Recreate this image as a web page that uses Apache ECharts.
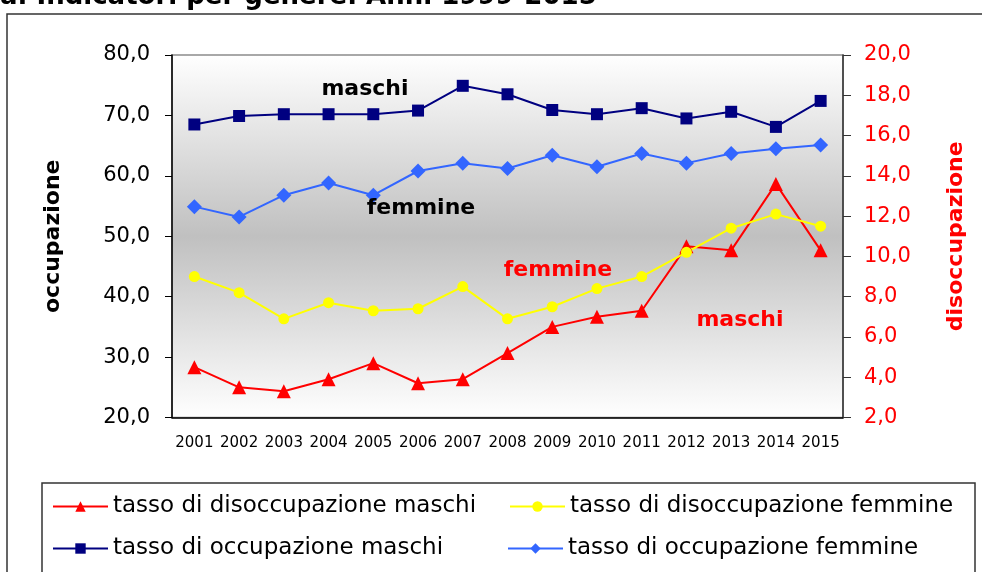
<!DOCTYPE html>
<html>
<head>
<meta charset="utf-8">
<script src="https://cdn.jsdelivr.net/npm/echarts@6/dist/echarts.min.js"></script>
<style>
  html, body { margin: 0; padding: 0; background: #fff; }
  #chart { width: 982px; height: 572px; }
</style>
</head>
<body>
<div id="chart"></div>
<script>
// anni e serie
var anni = ['2001', '2002', '2003', '2004', '2005', '2006', '2007', '2008', '2009', '2010', '2011', '2012', '2013', '2014', '2015'];
var disoccMaschi = [4.5, 3.5, 3.3, 3.9, 4.7, 3.7, 3.9, 5.2, 6.5, 7.0, 7.3, 10.5, 10.3, 13.6, 10.3];
var disoccFemmine = [9.0, 8.2, 6.9, 7.7, 7.3, 7.4, 8.5, 6.9, 7.5, 8.4, 9.0, 10.2, 11.4, 12.1, 11.5];
var occMaschi = [68.5, 69.9, 70.2, 70.2, 70.2, 70.8, 74.9, 73.5, 70.9, 70.2, 71.2, 69.5, 70.6, 68.1, 72.4];
var occFemmine = [54.9, 53.2, 56.8, 58.8, 56.8, 60.8, 62.1, 61.2, 63.4, 61.5, 63.7, 62.1, 63.7, 64.5, 65.1];

var nomi = ['tasso di disoccupazione maschi', 'tasso di disoccupazione femmine',
            'tasso di occupazione maschi', 'tasso di occupazione femmine'];

var chartDom = document.getElementById('chart');
var myChart = echarts.init(chartDom);

var font = 'DejaVu Sans';
function virgola(v) { return v.toFixed(1).replace('.', ','); }

function legenda(nome, left, top) {
  return {
    data: [nome],
    left: left,
    top: top,
    padding: 0,
    itemWidth: 55,
    itemHeight: 13,
    selectedMode: false,
    textStyle: { fontFamily: font, fontSize: 23, color: '#000' }
  };
}

var option = {
  backgroundColor: '#fff',
  animation: false,
  grid: {
    left: 172,
    top: 55,
    right: 139,
    bottom: 154.5,
    show: true,
    borderColor: '#8c8c8c',
    borderWidth: 1.5,
    backgroundColor: {
      type: 'linear', x: 0, y: 0, x2: 0, y2: 1,
      colorStops: [
        { offset: 0, color: '#ffffff' },
        { offset: 0.5, color: '#c0c0c0' },
        { offset: 1, color: '#ffffff' }
      ]
    }
  },
  legend: [
    legenda(nomi[0], 52, 495),
    legenda(nomi[1], 509, 495),
    legenda(nomi[2], 52, 537),
    legenda(nomi[3], 507, 537)
  ],
  xAxis: {
    type: 'category',
    data: anni,
    boundaryGap: true,
    axisLine: { lineStyle: { color: '#000', width: 1.5 } },
    axisTick: { interval: 0, length: 6, lineStyle: { color: '#000' } },
    axisLabel: { interval: 0, margin: 18, fontFamily: font, fontSize: 15, color: '#000' },
    splitLine: { show: false }
  },
  yAxis: [
    {
      type: 'value',
      min: 20, max: 80, interval: 10,
      name: 'occupazione',
      nameLocation: 'middle',
      nameRotate: 90,
      nameGap: 108,
      nameTextStyle: { fontFamily: font, fontSize: 22, fontWeight: 'bold', color: '#000' },
      axisLine: { show: true, lineStyle: { color: '#000', width: 1.5 } },
      axisTick: { show: true, length: 7, lineStyle: { color: '#000' } },
      axisLabel: { margin: 22, fontFamily: font, fontSize: 21, color: '#000', formatter: virgola },
      splitLine: { show: false }
    },
    {
      type: 'value',
      position: 'right',
      min: 2, max: 20, interval: 2,
      name: 'disoccupazione',
      nameLocation: 'middle',
      nameRotate: 90,
      nameGap: 102,
      nameTextStyle: { fontFamily: font, fontSize: 22, fontWeight: 'bold', color: '#ff0000' },
      axisLine: { show: true, lineStyle: { color: '#333', width: 1.5 } },
      axisTick: { show: true, length: 8, lineStyle: { color: '#333' } },
      axisLabel: { margin: 21, fontFamily: font, fontSize: 21, color: '#ff0000', formatter: virgola },
      splitLine: { show: false }
    }
  ],
  series: [
    {
      name: nomi[0], type: 'line', yAxisIndex: 1, data: disoccMaschi,
      symbol: 'triangle', symbolSize: 14,
      lineStyle: { color: '#ff0000', width: 2 },
      itemStyle: { color: '#ff0000' }
    },
    {
      name: nomi[1], type: 'line', yAxisIndex: 1, data: disoccFemmine,
      symbol: 'circle', symbolSize: 11,
      lineStyle: { color: '#ffff00', width: 2 },
      itemStyle: { color: '#ffff00' }
    },
    {
      name: nomi[2], type: 'line', yAxisIndex: 0, data: occMaschi,
      symbol: 'rect', symbolSize: 12,
      lineStyle: { color: '#000080', width: 2 },
      itemStyle: { color: '#000080' }
    },
    {
      name: nomi[3], type: 'line', yAxisIndex: 0, data: occFemmine,
      symbol: 'diamond', symbolSize: 15,
      lineStyle: { color: '#3366ff', width: 2 },
      itemStyle: { color: '#3366ff' }
    }
  ],
  graphic: [
    // cornice esterna
    { type: 'rect', shape: { x: 7, y: 14, width: 1000, height: 600 }, style: { fill: 'none', stroke: '#333', lineWidth: 1.5 }, z: -1 },
    // riquadro legenda
    { type: 'rect', shape: { x: 42, y: 483, width: 933, height: 100 }, style: { fill: 'none', stroke: '#333', lineWidth: 1.5 } },
    // titolo (tagliato in alto)
    { type: 'text', left: 0, top: -16, style: { text: 'a. Indicatori per genere. Anni 1999-2015', font: 'bold 26px "DejaVu Sans"', fill: '#000' } },
    // etichette dentro il grafico
    { type: 'text', x: 365, y: 89, style: { text: 'maschi', font: 'bold 22px "DejaVu Sans"', fill: '#000', align: 'center', verticalAlign: 'middle' }, z: 10 },
    { type: 'text', x: 421, y: 208, style: { text: 'femmine', font: 'bold 22px "DejaVu Sans"', fill: '#000', align: 'center', verticalAlign: 'middle' }, z: 10 },
    { type: 'text', x: 558, y: 270, style: { text: 'femmine', font: 'bold 22px "DejaVu Sans"', fill: '#ff0000', align: 'center', verticalAlign: 'middle' }, z: 10 },
    { type: 'text', x: 740, y: 320, style: { text: 'maschi', font: 'bold 22px "DejaVu Sans"', fill: '#ff0000', align: 'center', verticalAlign: 'middle' }, z: 10 }
  ]
};

myChart.setOption(option);
</script>
</body>
</html>
